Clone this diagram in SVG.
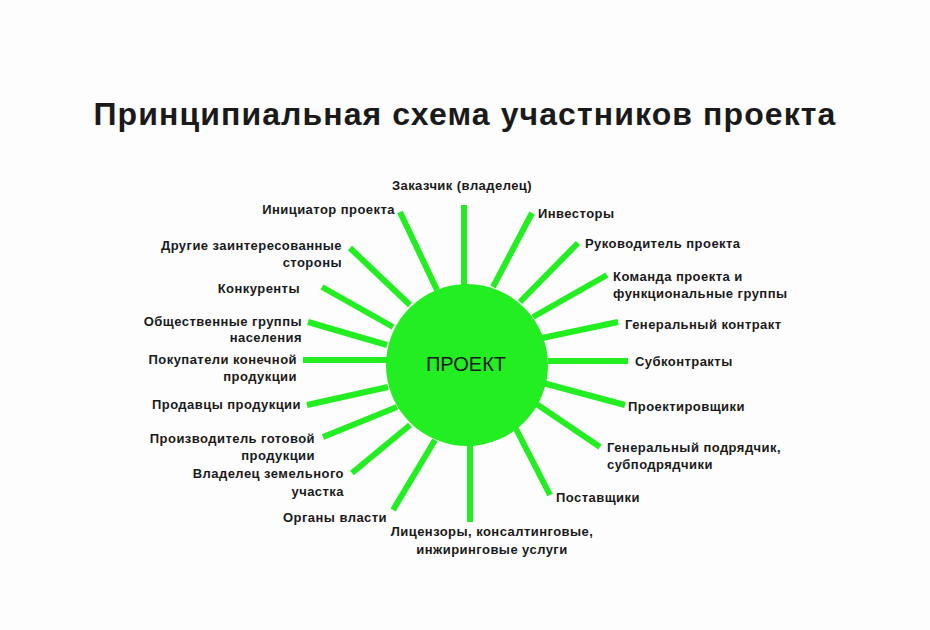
<svg xmlns="http://www.w3.org/2000/svg" width="930" height="630" viewBox="0 0 930 630">
<style>
.t{font-family:"Liberation Sans",Arial,sans-serif;font-weight:bold;font-size:13px;fill:#1a1a1a;letter-spacing:0.45px}
.s{stroke:#22ee22;stroke-width:6;stroke-linecap:butt}
</style>
<rect width="930" height="630" fill="#fdfdfd"/>
<text x="465" y="125" text-anchor="middle" style="font-family:'Liberation Sans',Arial,sans-serif;font-weight:bold;font-size:32px;fill:#1a1a1a;letter-spacing:1.1px">Принципиальная схема участников  проекта</text>
<g id="connectors">
<line class="s" x1="464" y1="205" x2="464" y2="287"/>
<line class="s" x1="400" y1="212" x2="437" y2="290"/>
<line class="s" x1="350" y1="248" x2="410" y2="305"/>
<line class="s" x1="322" y1="287" x2="393" y2="327"/>
<line class="s" x1="308" y1="322" x2="387" y2="345"/>
<line class="s" x1="303" y1="360" x2="387" y2="360"/>
<line class="s" x1="307" y1="405" x2="388" y2="387"/>
<line class="s" x1="323" y1="437" x2="397" y2="407"/>
<line class="s" x1="352" y1="473" x2="410" y2="425"/>
<line class="s" x1="393" y1="510" x2="435" y2="440"/>
<line class="s" x1="470" y1="445" x2="470" y2="522"/>
<line class="s" x1="532" y1="213" x2="493" y2="287"/>
<line class="s" x1="578" y1="243" x2="520" y2="302"/>
<line class="s" x1="607" y1="275" x2="533" y2="317"/>
<line class="s" x1="618" y1="322" x2="542" y2="338"/>
<line class="s" x1="548" y1="361" x2="628" y2="361"/>
<line class="s" x1="625" y1="405" x2="543" y2="383"/>
<line class="s" x1="600" y1="447" x2="535" y2="403"/>
<line class="s" x1="550" y1="495" x2="515" y2="427"/>
</g>
<g id="project"><circle cx="467" cy="365" r="81" fill="#22ee22"/><text x="466" y="371" text-anchor="middle" style="font-family:'Liberation Sans',Arial,sans-serif;font-size:20px;fill:#1a1a1a">ПРОЕКТ</text></g>
<g id="n1"><text class="t" x="462" y="190" text-anchor="middle">Заказчик (владелец)</text></g>
<g id="n2"><text class="t" x="395" y="214" text-anchor="end">Инициатор проекта</text></g>
<g id="n3"><text class="t" x="342" y="250" text-anchor="end">Другие заинтересованные</text><text class="t" x="342" y="267" text-anchor="end">стороны</text></g>
<g id="n4"><text class="t" x="300" y="293" text-anchor="end">Конкуренты</text></g>
<g id="n5"><text class="t" x="302" y="326" text-anchor="end">Общественные группы</text><text class="t" x="302" y="342" text-anchor="end">населения</text></g>
<g id="n6"><text class="t" x="297" y="364" text-anchor="end">Покупатели конечной</text><text class="t" x="297" y="381" text-anchor="end">продукции</text></g>
<g id="n7"><text class="t" x="301" y="409" text-anchor="end">Продавцы продукции</text></g>
<g id="n8"><text class="t" x="315" y="443" text-anchor="end">Производитель готовой</text><text class="t" x="315" y="460" text-anchor="end">продукции</text></g>
<g id="n9"><text class="t" x="344" y="478" text-anchor="end">Владелец земельного</text><text class="t" x="344" y="496" text-anchor="end">участка</text></g>
<g id="n10"><text class="t" x="387" y="522" text-anchor="end">Органы власти</text></g>
<g id="n11"><text class="t" x="492" y="536" text-anchor="middle">Лицензоры, консалтинговые,</text><text class="t" x="492" y="554" text-anchor="middle">инжиринговые услуги</text></g>
<g id="n12"><text class="t" x="538" y="218">Инвесторы</text></g>
<g id="n13"><text class="t" x="585" y="248">Руководитель проекта</text></g>
<g id="n14"><text class="t" x="613" y="281">Команда проекта и</text><text class="t" x="613" y="298">функциональные группы</text></g>
<g id="n15"><text class="t" x="625" y="329">Генеральный контракт</text></g>
<g id="n16"><text class="t" x="635" y="366">Субконтракты</text></g>
<g id="n17"><text class="t" x="628" y="411">Проектировщики</text></g>
<g id="n18"><text class="t" x="607" y="452">Генеральный подрядчик,</text><text class="t" x="607" y="469">субподрядчики</text></g>
<g id="n19"><text class="t" x="556" y="502">Поставщики</text></g>
</svg>
